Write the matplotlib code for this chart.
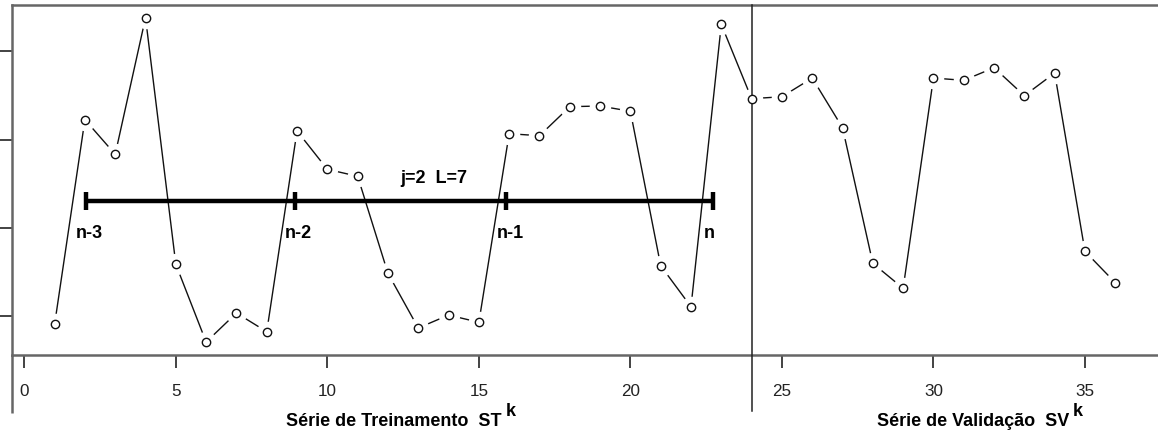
import matplotlib
matplotlib.use("Agg")
import matplotlib.pyplot as plt

# Series values (training part 1..23, validation part 24..36)
t = list(range(1, 37))
serie = [0.906, 3.226, 2.833, 4.382, 1.586, 0.705, 1.034, 0.822, 3.098, 2.663,
         2.584, 1.484, 0.864, 1.011, 0.929, 3.067, 3.044, 3.373, 3.381, 3.321,
         1.570, 1.105, 4.306, 3.464, 3.486, 3.698, 3.135, 1.597, 1.314, 3.698,
         3.672, 3.815, 3.498, 3.755, 1.733, 1.378]

split_at = 24            # first index of the validation series
window_marks = [2.03, 8.93, 15.9, 22.73]
window_level = 2.309
window_labels = ["n-3", "n-2", "n-1", "n"]
window_title = "j=2  L=7"
x_ticks = [0, 5, 10, 15, 20, 25, 30, 35]
y_ticks = [1, 2, 3, 4]
label_train = "Série de Treinamento  ST"
label_valid = "Série de Validação  SV"

plt.rcParams['font.family'] = ['Liberation Sans', 'DejaVu Sans']

W, H = 1158, 436
fig = plt.figure(figsize=(W / 100, H / 100), dpi=100)
ax = fig.add_axes([12 / W, 1 - 355 / H, 1 - 12 / W, 350 / H])
ax.set_xlim(-0.406, 37.41)
ax.set_ylim(0.558, 4.526)

frame_col = "#666666"
for side in ("left", "top", "bottom"):
    ax.spines[side].set_color(frame_col)
    ax.spines[side].set_linewidth(1.8)
ax.spines["right"].set_visible(False)

ax.set_xticks(x_ticks)
ax.set_yticks(y_ticks)
ax.set_yticklabels([])
ax.tick_params(axis="x", length=9, width=1.2, color="#222222", pad=12,
               labelsize=12.3, labelcolor="#222222")
ax.tick_params(axis="y", length=9, width=1.2, color="#222222")

# Line with gaps around the points (R type="b" look)
ax.plot(t, serie, color="#111111", lw=1.0, zorder=2)
ax.plot(t, serie, ls="none", marker="o", ms=15.5, mfc="white", mec="none",
        zorder=3)
ax.plot(t, serie, ls="none", marker="o", ms=6.0, mfc="white", mec="#111111",
        mew=1.0, zorder=5)

# Divider between training and validation, running below the axis
y0, y1 = ax.get_ylim()
ax.plot([split_at, split_at], [y1, y0 - 0.63], color="#222222", lw=1.1,
        clip_on=False, zorder=4)
# left frame line continues below the axis
ax.plot([ax.get_xlim()[0]] * 2, [y0, y0 - 0.66], color=frame_col, lw=1.8,
        clip_on=False, zorder=4, solid_capstyle="butt")

# Window bar with its markers
marks = window_marks
ax.plot([marks[0], marks[-1]], [window_level] * 2, color="black", lw=3.2,
        zorder=6, solid_capstyle="butt")
ax.plot(marks, [window_level] * len(marks), ls="none", marker="|", ms=13,
        mew=3.2, color="black", zorder=6)
for m, lab in zip(marks, window_labels):
    ax.annotate(lab, (m, window_level), xytext=(-7, -24),
                textcoords="offset points", fontsize=13, fontweight="bold",
                ha="left", va="center", zorder=7)
ax.annotate(window_title, ((marks[1] + marks[2]) / 2 + 1.1, window_level),
            xytext=(0, 16), textcoords="offset points", fontsize=13,
            fontweight="bold", ha="center", va="center", zorder=7)

# Axis captions with superscript k
trans = ax.get_xaxis_transform()
for xc, lab in ((12.2, label_train), (31.3, label_valid)):
    txt = ax.text(xc, -0.19, lab, transform=trans, fontsize=13,
                  fontweight="bold", ha="center", va="center")
    ax.annotate("k", xy=(1, 1), xycoords=txt, xytext=(3, 1),
                textcoords="offset points", fontsize=13, fontweight="bold",
                ha="left", va="center")

fig.savefig("out.png", dpi=100)
